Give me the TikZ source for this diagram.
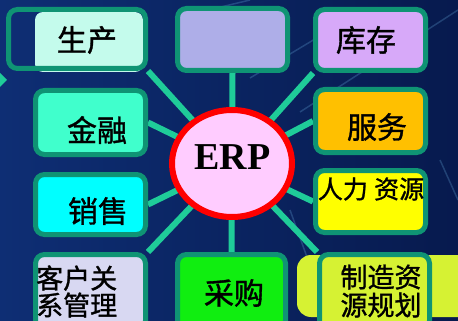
\documentclass[tikz,border=0pt]{standalone}
\usepackage{fontspec}
\setmainfont{Liberation Serif}
\newfontfamily\cjk[FakeBold=1.2]{Noto Sans CJK SC}
\usetikzlibrary{shapes.geometric,backgrounds}
\definecolor{bgleft}{HTML}{0E2E74}
\definecolor{bgright}{HTML}{071A4E}
\definecolor{boxline}{HTML}{0F9474}
\definecolor{connc}{HTML}{1FCC99}
\definecolor{gridc}{HTML}{6FB8E8}
\definecolor{scfill}{HTML}{C4FBEC}
\definecolor{tmfill}{HTML}{AEAEE8}
\definecolor{kcfill}{HTML}{D7A9F9}
\definecolor{fwfill}{HTML}{FFC000}
\definecolor{rlfill}{HTML}{FFFF00}
\definecolor{zzfill}{HTML}{D6F233}
\definecolor{cgfill}{HTML}{10EE10}
\definecolor{khfill}{HTML}{D8D8F2}
\definecolor{xsfill}{HTML}{00FFFF}
\definecolor{jrfill}{HTML}{40FFCC}
\definecolor{erpfill}{HTML}{FFCCFF}
\begin{document}
\begin{tikzpicture}[x=1pt,y=-1pt,
  box/.style={draw=boxline, line width=5pt, rounded corners=9pt, inner sep=0pt},
  lbl/.style={font=\cjk\fontsize{30}{32}\selectfont, inner sep=0pt, text=black},
  lblsmall/.style={font=\cjk\fontsize{25}{28}\selectfont, inner sep=0pt, text=black},
  conn/.style={draw=connc, line width=6pt},
  gridline/.style={draw=gridc, line width=1.5pt, opacity=0.25}]
\useasboundingbox (0,0) rectangle (458,321);
\clip (0,0) rectangle (458,321);

% boxes
\fill[scfill, rounded corners=8pt] (35,12) rectangle (143,72);
\node[box, minimum width=137pt, minimum height=59pt] (sc) at (77,39) {};
\node[lbl] (sct) at (87,40) {生产};

\node[box, fill=tmfill, minimum width=110pt, minimum height=62pt] (tm) at (232.5,39.5) {};

\node[box, fill=kcfill, minimum width=110pt, minimum height=61pt] (kc) at (370.5,40) {};
\node[lbl] (kct) at (366,40) {库存};

\node[box, fill=fwfill, minimum width=110pt, minimum height=63pt] (fw) at (370.5,121) {};
\node[lbl] (fwt) at (377,127) {服务};

\node[box, fill=rlfill, minimum width=110pt, minimum height=62pt] (rl) at (370.5,201.5) {};
\node[lblsmall] (rlt) at (371,189) {人力\hspace{0.25em}资源};

\fill[zzfill, rounded corners=14pt] (297,255) rectangle (472,317);
\node[box, fill=zzfill, minimum width=110pt, minimum height=75pt] (zz) at (374.5,292) {};
\node[lblsmall, align=center, font=\cjk\fontsize{27}{28}\selectfont] (zzt) at (381,291) {制造资\\源规划};

\node[box, fill=cgfill, minimum width=108pt, minimum height=75pt] (cg) at (231.5,292) {};
\node[lbl] (cgt) at (234,293) {采购};

\node[box, fill=khfill, minimum width=110pt, minimum height=75pt] (kh) at (90.5,292) {};
\node[lblsmall, align=left, anchor=west, font=\cjk\fontsize{27}{27}\selectfont] (kht) at (36,291.5) {客户关\\系管理};

\node[box, fill=xsfill, minimum width=110pt, minimum height=60pt] (xs) at (90.5,204.5) {};
\node[lbl] (xst) at (98,211) {销售};

\node[box, fill=jrfill, minimum width=110pt, minimum height=64pt] (jr) at (90.5,122.5) {};
\node[lbl] (jrt) at (97,130) {金融};

% centre
\node[ellipse, draw=red, line width=6pt, fill=erpfill, minimum width=120pt, minimum height=107pt, inner sep=0pt] (erp) at (232,163.5) {};
\node[font=\fontsize{38}{40}\selectfont\bfseries, inner sep=0pt] (erpt) at (232.5,157.5) {ERP};

\begin{scope}[on background layer]
  \clip (0,0) rectangle (458,321);
  \shade[left color=bgleft, right color=bgright] (0,0) rectangle (458,321);
  \draw[gridline] (175,18) -- (250,0);
  \draw[gridline] (250,78) -- (330,30);
  \draw[gridline] (300,112) -- (458,10);
  \draw[gridline] (290,210) -- (330,321);
  \draw[gridline] (440,160) -- (458,200);
  \fill[connc] (0,73) -- (7,80) -- (0,87) -- cycle;
  \draw[conn] (erp.center) -- (sc.south east);
  \draw[conn] (erp.center) -- (tm.south);
  \draw[conn] (erp.center) -- (kc.south west);
  \draw[conn] (erp.center) -- (fw.west);
  \draw[conn] (erp.center) -- (rl.west);
  \draw[conn] (erp.center) -- (zz.north west);
  \draw[conn] (erp.center) -- (cg.north);
  \draw[conn] (erp.center) -- (kh.north east);
  \draw[conn] (erp.center) -- (xs.east);
  \draw[conn] (erp.center) -- (jr.east);
\end{scope}
\end{tikzpicture}
\end{document}
